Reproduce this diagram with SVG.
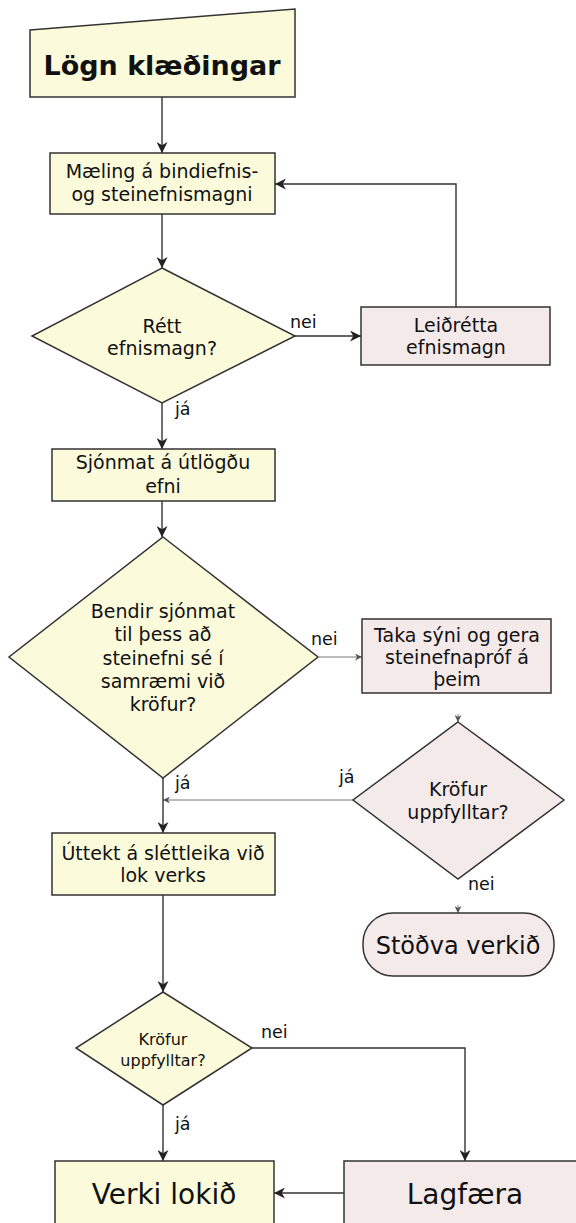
<svg xmlns="http://www.w3.org/2000/svg" width="576" height="1223" viewBox="0 0 576 1223">
<style>
.y{fill:#fbfbdc;stroke:#333;stroke-width:1.5}
.p{fill:#f5eaea;stroke:#333;stroke-width:1.5}
.t{font-family:"DejaVu Sans",Verdana,sans-serif;font-size:19px;fill:#111;text-anchor:middle}
.l{font-family:"DejaVu Sans",Verdana,sans-serif;font-size:17.5px;fill:#111}
.c{fill:none;stroke:#333;stroke-width:1.4}
.thin{fill:none;stroke:#777;stroke-width:1}
</style>
<defs>
<marker id="a" viewBox="0 0 10 10" refX="10" refY="5" markerWidth="11" markerHeight="11" markerUnits="userSpaceOnUse" orient="auto">
<path d="M0,0 L10,5 L0,10 L3,5 z" fill="#222"/>
</marker>
<marker id="s" viewBox="0 0 10 10" refX="10" refY="5" markerWidth="7" markerHeight="7" markerUnits="userSpaceOnUse" orient="auto">
<path d="M0,0 L10,5 L0,10 L3,5 z" fill="#555"/>
</marker>
</defs>
<g id="connectors">
<path class="c" d="M162,97 V153" marker-end="url(#a)"/>
<path class="c" d="M162,214 V268" marker-end="url(#a)"/>
<path class="c" d="M295,336 H361" marker-end="url(#a)"/>
<path class="c" d="M456,307 V184 H275" marker-end="url(#a)"/>
<path class="c" d="M162,403 V449" marker-end="url(#a)"/>
<path class="c" d="M162,501 V537" marker-end="url(#a)"/>
<path class="thin" d="M319,657 H362" marker-end="url(#s)"/>
<path class="thin" d="M458,714 V722" marker-end="url(#s)"/>
<path class="thin" d="M353,800 H163" marker-end="url(#s)"/>
<path class="c" d="M163,778 V833" marker-end="url(#a)"/>
<path class="thin" d="M458,905 V913" marker-end="url(#s)"/>
<path class="c" d="M163,895 V992" marker-end="url(#a)"/>
<path class="c" d="M163,1105 V1161" marker-end="url(#a)"/>
<path class="c" d="M252,1048 H465 V1161" marker-end="url(#a)"/>
<path class="c" d="M344,1193 H274" marker-end="url(#a)"/>
<text class="l" x="290" y="328">nei</text>
<text class="l" x="175" y="415">já</text>
<text class="l" x="311" y="645">nei</text>
<text class="l" x="175" y="789">já</text>
<text class="l" x="339" y="783">já</text>
<text class="l" x="468" y="890">nei</text>
<text class="l" x="261" y="1038">nei</text>
<text class="l" x="175" y="1130">já</text>
</g>
<g id="start">
<polygon class="y" points="30,30 295,9 295,97 30,97"/>
<text x="162" y="75" style="font-family:'DejaVu Sans',Verdana,sans-serif;font-size:27px;font-weight:bold;fill:#111;text-anchor:middle">Lögn klæðingar</text>
</g>
<g id="maeling">
<rect class="y" x="50" y="153" width="225" height="61"/>
<text class="t" x="162" y="178">Mæling á bindiefnis-</text>
<text class="t" x="162" y="201">og steinefnismagni</text>
</g>
<g id="rett">
<polygon class="y" points="162,268 295,336 162,403 32,336"/>
<text class="t" x="162" y="333">Rétt</text>
<text class="t" x="162" y="355">efnismagn?</text>
</g>
<g id="leidretta">
<rect class="p" x="361" y="307" width="189" height="58"/>
<text class="t" x="456" y="332">Leiðrétta</text>
<text class="t" x="456" y="354">efnismagn</text>
</g>
<g id="sjonmat">
<rect class="y" x="52" y="449" width="223" height="52"/>
<text class="t" x="163" y="469">Sjónmat á útlögðu</text>
<text class="t" x="163" y="493">efni</text>
</g>
<g id="bendir">
<polygon class="y" points="163,537 318,657 163,778 9,657"/>
<text class="t" x="163" y="618">Bendir sjónmat</text>
<text class="t" x="163" y="641">til þess að</text>
<text class="t" x="163" y="665">steinefni sé í</text>
<text class="t" x="163" y="688">samræmi við</text>
<text class="t" x="163" y="711">kröfur?</text>
</g>
<g id="taka">
<rect class="p" x="362" y="619" width="189" height="74"/>
<text class="t" x="457" y="642">Taka sýni og gera</text>
<text class="t" x="457" y="664">steinefnapróf á</text>
<text class="t" x="457" y="686">þeim</text>
</g>
<g id="krofur1">
<polygon class="p" points="458,722 564,800 458,879 353,800"/>
<text class="t" x="458" y="796">Kröfur</text>
<text class="t" x="458" y="819">uppfylltar?</text>
</g>
<g id="stodva">
<rect class="p" x="363" y="913" width="191" height="63" rx="30" ry="30"/>
<text class="t" x="458" y="954" style="font-size:24px">Stöðva verkið</text>
</g>
<g id="uttekt">
<rect class="y" x="52" y="833" width="223" height="62"/>
<text class="t" x="163" y="860">Úttekt á sléttleika við</text>
<text class="t" x="163" y="882">lok verks</text>
</g>
<g id="krofur2">
<polygon class="y" points="163,992 252,1048 163,1105 76,1048"/>
<text class="t" x="163" y="1045" style="font-size:16px">Kröfur</text>
<text class="t" x="163" y="1066" style="font-size:16px">uppfylltar?</text>
</g>
<g id="verki">
<rect class="y" x="55" y="1161" width="219" height="70"/>
<text class="t" x="164" y="1204" style="font-size:28px">Verki lokið</text>
</g>
<g id="lagfaera">
<rect class="p" x="344" y="1161" width="240" height="70"/>
<text class="t" x="465" y="1204" style="font-size:28px">Lagfæra</text>
</g>
</svg>
